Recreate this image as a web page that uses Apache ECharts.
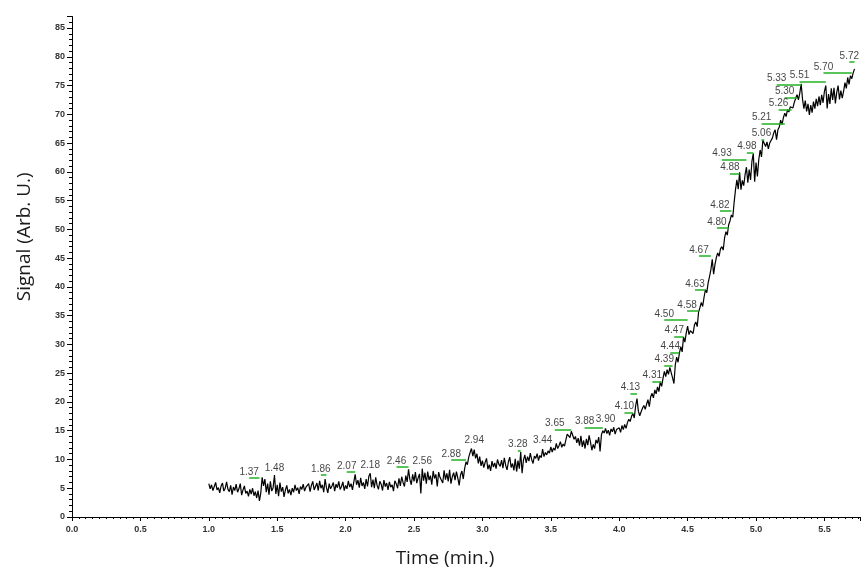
<!DOCTYPE html>
<html>
<head>
<meta charset="utf-8">
<script src="https://cdn.jsdelivr.net/npm/echarts@6/dist/echarts.min.js"></script>
<style>html,body{margin:0;padding:0;background:#fff;}#chart{width:863px;height:573px;}</style>
</head>
<body>
<div id="chart"></div>
<script>
// Sampling grid of the trace (min.)
const traceStart = 1.00;
const traceStep = 0.01;

// Signal (Arb. U.), one row per 0.1 min
const signal1 = [ // 1.00 - 1.99
  5.8, 4.9, 5.6, 4.6, 5.3, 6.0, 4.7, 5.1, 4.2, 5.4,
  5.9, 4.5, 5.0, 6.1, 4.8, 4.4, 5.5, 3.9, 5.2, 4.6,
  5.7, 4.3, 4.9, 5.8, 3.8, 4.7, 5.4, 4.1, 4.5, 3.6,
  4.8, 4.0, 5.0, 3.7, 4.4, 3.3, 4.6, 2.8, 4.2, 6.9,
  5.4, 6.6, 4.3, 5.8, 3.9, 6.2, 4.5, 5.1, 7.3, 4.0,
  5.6, 3.6, 6.0, 4.4, 5.2, 3.5, 4.7, 5.5, 4.1, 4.8,
  3.8, 5.0, 4.3, 5.6, 4.6, 5.1, 4.0, 5.3, 4.8, 5.7,
  4.5, 5.2, 4.9, 5.8, 4.4, 5.5, 6.2, 4.7, 5.3, 5.9,
  4.6, 6.3, 5.0, 5.6, 4.3, 6.6, 5.1, 4.2, 5.8, 4.9,
  5.4, 6.0, 4.5, 5.7, 5.1, 6.2, 4.8, 5.3, 6.1, 4.6
];
const signal2 = [ // 2.00 - 2.99
  5.5, 4.9, 6.3, 5.2, 5.8, 4.7, 6.1, 7.4, 5.6, 6.4,
  5.1, 6.8, 5.4, 6.0, 4.9, 6.6, 5.3, 7.1, 7.6, 5.2,
  6.5, 5.0, 6.9, 5.5, 4.8, 6.2, 5.7, 4.6, 6.4, 5.3,
  5.9, 4.7, 6.1, 5.2, 5.6, 4.5, 6.3, 5.8, 5.0, 6.7,
  5.4, 7.0, 6.0, 5.3, 7.2, 6.1, 8.3, 6.5, 5.6, 7.4,
  6.2, 7.8, 5.9, 6.8, 7.5, 4.1, 8.4, 6.3, 7.7, 5.8,
  7.9, 6.4, 7.2, 5.6, 8.0, 6.7, 7.4, 5.3, 7.8, 6.9,
  7.1, 5.9, 8.1, 6.5, 7.6, 6.2, 8.2, 5.8, 7.0, 7.7,
  6.4, 7.9, 6.8, 5.5, 7.3, 8.0, 6.6, 8.4, 9.6, 9.1,
  10.4, 11.2, 11.9, 10.6, 11.7, 10.2, 11.0, 9.3, 10.5, 8.9
];
const signal3 = [ // 3.00 - 3.99
  9.8, 8.6, 9.5, 10.2, 8.3, 9.1, 8.0, 9.7, 8.7, 9.4,
  8.4, 10.0, 9.2, 8.8, 9.9, 8.5, 10.3, 9.0, 8.2, 9.6,
  10.4, 8.6, 9.3, 8.1, 10.1, 7.9, 9.8, 8.4, 11.3, 7.6,
  9.9, 10.8, 9.4, 10.5, 9.7, 11.1, 10.0, 9.3, 10.6, 10.2,
  11.0, 9.8, 10.7, 10.3, 11.8, 10.5, 11.2, 10.8, 11.5, 11.1,
  12.2, 11.3, 12.0, 11.6, 12.8, 11.9, 12.4, 13.1, 12.1, 12.7,
  12.3, 13.4, 14.4, 14.1, 13.8, 14.9, 14.2, 13.5, 14.0, 12.9,
  13.7, 12.4, 14.1, 12.2, 13.3, 11.9, 13.6, 12.5, 14.2, 13.0,
  11.6, 12.6, 11.9, 13.4, 12.8, 13.9, 11.4, 14.3, 15.0, 14.6,
  15.4, 14.5, 15.1, 14.2, 15.3, 14.8, 15.6, 14.4, 15.2, 15.0
];
const signal4 = [ // 4.00 - 4.99
  15.5, 14.7, 15.9, 15.2, 16.1, 15.4, 16.4, 17.0, 16.6, 17.5,
  18.0, 17.2, 19.3, 20.6, 18.4, 17.6, 18.3, 18.9, 19.4, 18.7,
  19.6, 20.4, 19.2, 20.9, 21.5, 20.7, 22.1, 21.4, 22.6, 21.8,
  23.5, 22.7, 24.1, 25.3, 24.4, 25.6, 24.8, 26.0, 26.3, 24.2,
  23.2, 26.5, 27.8, 26.9, 28.5, 29.6, 28.7, 31.3, 30.4, 32.0,
  33.2, 31.7, 32.4, 32.7, 31.9, 33.4, 33.9, 33.1, 35.6, 36.4,
  37.3, 36.6, 38.2, 39.5, 39.0, 40.7, 41.8, 43.0, 44.8, 42.2,
  43.9, 45.1, 45.9, 45.3, 46.6, 47.0, 46.4, 48.5, 49.6, 49.0,
  50.8, 51.5, 52.5, 52.1, 54.7, 56.9, 58.6, 57.0, 59.9, 56.9,
  58.5, 57.6, 59.5, 60.8, 58.1, 60.4, 58.6, 61.8, 63.2, 58.3
];
const signal5 = [ // 5.00 - 5.72
  61.6, 59.2, 62.1, 63.8, 62.6, 65.5, 65.8, 64.4, 65.2, 64.0,
  65.0, 64.7, 65.9, 66.8, 67.3, 65.6, 67.3, 67.8, 69.0, 68.2,
  69.4, 70.2, 69.6, 70.8, 70.4, 71.3, 71.6, 71.1, 72.1, 72.8,
  73.4, 72.5, 73.7, 75.3, 72.6, 71.0, 72.4, 70.5, 71.8, 69.9,
  71.6, 70.3, 72.2, 71.0, 72.7, 71.4, 73.1, 71.6, 73.4, 72.0,
  74.0, 75.0, 71.0, 73.5, 71.8, 74.5, 72.5, 74.6, 71.9, 73.8,
  75.0, 72.6, 74.1, 72.8, 74.0, 75.5, 74.5, 76.4, 75.2, 76.7,
  76.2, 77.2, 77.9
];

// Peak annotations: retention time, where the leader (and label) starts, leader level
const peakTimes  = [1.37, 1.48, 1.86, 2.07, 2.18, 2.46, 2.56, 2.88, 2.94, 3.28, 3.44, 3.65, 3.88, 3.90,
                    4.10, 4.13, 4.31, 4.39, 4.44, 4.47, 4.50, 4.58, 4.63, 4.67, 4.80, 4.82, 4.88, 4.93,
                    4.98, 5.06, 5.21, 5.26, 5.30, 5.33, 5.51, 5.70, 5.72];
const peakStart  = [1.295, 1.48, 1.819, 2.008, 2.18, 2.372, 2.56, 2.772, 2.94, 3.259, 3.44, 3.529, 3.747, 3.90,
                    4.038, 4.082, 4.242, 4.329, 4.373, 4.402, 4.329, 4.496, 4.554, 4.583, 4.714, 4.736, 4.809, 4.751,
                    4.933, 5.04, 5.041, 5.165, 5.209, 5.151, 5.318, 5.493, 5.682];
const peakLevels = [6.75, 7.44, 7.27, 7.79, 7.96, 8.66, 8.66, 9.87, 12.29, 11.6, 12.29, 15.24, 15.58, 15.93,
                    18.18, 21.47, 23.55, 26.32, 28.57, 31.34, 34.28, 35.84, 39.47, 45.36, 50.21, 53.15, 59.73, 62.15,
                    63.37, 65.63, 68.4, 70.81, 72.89, 75.14, 75.66, 77.22, 79.12];

const signal = [].concat(signal1, signal2, signal3, signal4, signal5);
const traceData = signal.map((v, i) => [+(traceStart + i * traceStep).toFixed(2), v]);
const labelData = peakTimes.map((t, i) => ({ value: [peakStart[i], peakLevels[i]], name: t.toFixed(2) }));
const leaderData = peakTimes
  .map((t, i) => ({ coords: [[peakStart[i], peakLevels[i]], [t, peakLevels[i]]] }))
  .filter((d) => d.coords[1][0] - d.coords[0][0] > 0.001);

const tickFont = { fontSize: 9, fontWeight: 'bold', color: '#333', fontFamily: 'Liberation Sans' };
const nameFont = { fontSize: 19, color: '#1a1a1a', fontFamily: 'Open Sans' };

const chart = echarts.init(document.getElementById('chart'), null, { renderer: 'canvas' });
chart.setOption({
  animation: false,
  backgroundColor: '#ffffff',
  grid: { left: 72, right: 0, top: 16.5, bottom: 54, containLabel: false },
  xAxis: {
    type: 'value', min: 0, max: 5.76, interval: 0.5,
    name: 'Time (min.)', nameLocation: 'middle', nameGap: 32,
    nameTextStyle: Object.assign({}, nameFont, { padding: [0, 42, 0, 0] }),
    axisLine: { lineStyle: { color: '#000', width: 1 } },
    axisTick: { show: true, inside: false, length: 4, lineStyle: { color: '#000' } },
    minorTick: { show: true, splitNumber: 10, length: 2, lineStyle: { color: '#000' } },
    splitLine: { show: false },
    axisLabel: Object.assign({}, tickFont, {
      margin: 8, hideOverlap: false,
      formatter: v => (Math.abs(v * 2 - Math.round(v * 2)) < 1e-6 ? v.toFixed(1) : '')
    })
  },
  yAxis: {
    type: 'value', min: 0, max: 87, interval: 5,
    name: 'Signal (Arb. U.)', nameLocation: 'middle', nameGap: 38, nameRotate: 90,
    nameTextStyle: Object.assign({}, nameFont, { padding: [0, 0, 0, 60] }),
    axisLine: { show: true, lineStyle: { color: '#000', width: 1 } },
    axisTick: { show: true, inside: false, length: 5, lineStyle: { color: '#000' } },
    minorTick: { show: true, splitNumber: 5, length: 3, lineStyle: { color: '#000' } },
    splitLine: { show: false },
    axisLabel: Object.assign({}, tickFont, {
      margin: 7, hideOverlap: false,
      formatter: v => (v % 5 === 0 ? String(v) : '')
    })
  },
  series: [
    {
      name: 'Signal', type: 'line', data: traceData, showSymbol: false, symbol: 'none',
      lineStyle: { color: '#000', width: 1.2 }, silent: true, clip: true, z: 2
    },
    {
      name: 'Leaders', type: 'lines', coordinateSystem: 'cartesian2d', polyline: false,
      data: leaderData, silent: true, z: 3,
      lineStyle: { color: '#22b022', width: 1.5, opacity: 1, curveness: 0 },
      effect: { show: false }
    },
    {
      name: 'Peaks', type: 'scatter', data: labelData, symbolSize: 0, silent: true, clip: false, z: 4,
      label: {
        show: true, position: 'top', distance: 1, formatter: p => p.name,
        fontSize: 10, color: '#111', fontFamily: 'Liberation Sans'
      }
    }
  ]
});
</script>
</body>
</html>
